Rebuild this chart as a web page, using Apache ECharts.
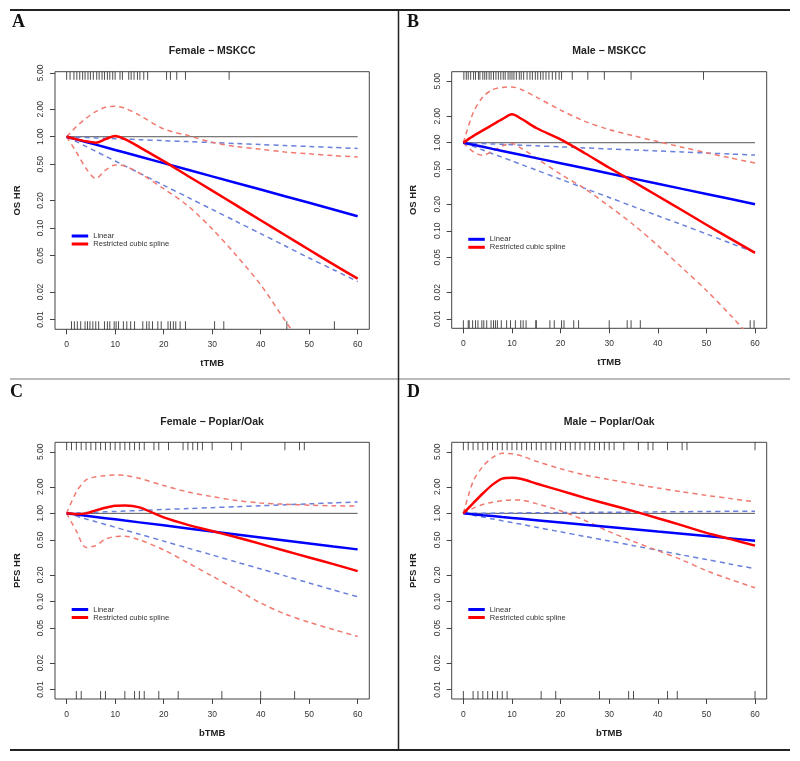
<!DOCTYPE html>
<html>
<head>
<meta charset="utf-8">
<script src="https://cdn.jsdelivr.net/npm/echarts@6/dist/echarts.min.js"></script>
<style>
  html, body { margin: 0; padding: 0; background: #fff; }
  #main { width: 800px; height: 761px; }
</style>
</head>
<body>
<div id="main"></div>
<script>
var chart = echarts.init(document.getElementById('main'));

var xGrid = [0, 2, 4, 6, 8, 10, 12, 15, 20, 25, 30, 35, 40, 45, 50, 55, 60];
var xTicks = [0, 10, 20, 30, 40, 50, 60];
var yTicks = [0.01, 0.02, 0.05, 0.1, 0.2, 0.5, 1, 2, 5];
var refX = [0, 60];

// A: Female - MSKCC
var aLinear   = [1, 0.936, 0.875, 0.819, 0.766, 0.717, 0.671, 0.607, 0.514, 0.435, 0.368, 0.312, 0.264, 0.223, 0.189, 0.160, 0.135];
var aLinearLo = [1, 0.885, 0.783, 0.693, 0.613, 0.542, 0.480, 0.400, 0.294, 0.217, 0.160, 0.118, 0.087, 0.064, 0.047, 0.035, 0.026];
var aLinearHi = [1, 0.990, 0.981, 0.971, 0.962, 0.952, 0.943, 0.929, 0.906, 0.884, 0.863, 0.842, 0.821, 0.801, 0.782, 0.763, 0.745];
var aSpline   = [1, 0.94, 0.89, 0.86, 0.94, 1.02, 0.94, 0.77, 0.54, 0.372, 0.257, 0.177, 0.122, 0.084, 0.058, 0.040, 0.028];
var aSplineLo = [1, 0.68, 0.45, 0.35, 0.43, 0.49, 0.476, 0.40, 0.27, 0.175, 0.098, 0.050, 0.024, 0.0098, 0.004, null, null];
var aSplineHi = [1, 1.29, 1.59, 1.88, 2.1, 2.15, 2.05, 1.72, 1.22, 1.03, 0.87, 0.78, 0.73, 0.68, 0.65, 0.62, 0.60];
var aRugTop = [0, 0.7, 1.5, 2.1, 2.7, 3.3, 3.8, 4.4, 4.9, 5.5, 6.2, 6.7, 7.3, 7.8, 8.4, 8.9, 9.5, 10.0, 11.0, 11.5,
               12.8, 13.3, 13.9, 14.6, 15.1, 15.9, 16.7, 20.6, 21.4, 22.7, 24.5, 33.5];
var aRugBottom = [1.0, 1.6, 2.2, 2.9, 3.8, 4.3, 4.8, 5.4, 6.0, 6.6, 7.8, 8.4, 8.9, 9.8, 10.2, 10.7, 11.7, 12.4, 13.2, 14.0,
                  15.7, 16.5, 17.0, 17.7, 18.8, 19.5, 20.9, 21.4, 22.0, 22.5, 23.4, 24.5, 30.5, 32.4, 45.4, 55.2];

// B: Male - MSKCC
var bLinear   = [1, 0.947, 0.898, 0.851, 0.807, 0.765, 0.725, 0.669, 0.585, 0.512, 0.447, 0.391, 0.342, 0.299, 0.262, 0.229, 0.200];
var bLinearLo = [1, 0.909, 0.826, 0.751, 0.683, 0.621, 0.564, 0.489, 0.385, 0.303, 0.239, 0.188, 0.148, 0.117, 0.092, 0.072, 0.057];
var bLinearHi = [1, 0.989, 0.979, 0.968, 0.958, 0.948, 0.937, 0.923, 0.898, 0.874, 0.851, 0.829, 0.807, 0.785, 0.764, 0.744, 0.724];
var bSpline   = [1, 1.19, 1.38, 1.6, 1.85, 2.1, 1.86, 1.47, 1.09, 0.76, 0.52, 0.36, 0.248, 0.171, 0.117, 0.081, 0.056];
var bSplineLo = [1, 0.79, 0.72, 0.8, 0.92, 0.98, 0.86, 0.67, 0.44, 0.30, 0.19, 0.117, 0.068, 0.038, 0.021, 0.0109, 0.0054];
var bSplineHi = [1, 2.18, 3.3, 4.0, 4.25, 4.3, 4.0, 3.3, 2.35, 1.75, 1.41, 1.2, 1.03, 0.89, 0.77, 0.67, 0.59];
var bRugTop = [0.1, 0.6, 1.0, 1.5, 2.1, 2.5, 3.1, 3.4, 4.0, 4.4, 4.8, 5.3, 5.7, 6.2, 6.7, 7.2, 7.7, 8.2, 8.6, 9.2,
               9.6, 10.0, 10.4, 10.9, 11.5, 11.9, 12.4, 13.1, 13.7, 14.2, 14.8, 15.3, 15.9, 16.4, 17.0, 17.6, 18.3,
               19.0, 19.7, 20.2, 22.4, 25.6, 29.0, 34.5, 49.4];
var bRugBottom = [0, 1.0, 1.2, 1.9, 2.5, 3.0, 3.8, 4.2, 4.8, 5.7, 6.2, 6.6, 7.0, 7.8, 8.9, 9.7, 10.7, 11.8, 12.3, 12.9,
                  14.9, 15.0, 17.8, 18.7, 20.2, 20.7, 22.7, 23.7, 30.0, 33.7, 34.5, 36.4, 59.0, 59.8];

// C: Female - Poplar/Oak
var cLinear   = [1, 0.969, 0.939, 0.910, 0.882, 0.855, 0.828, 0.790, 0.731, 0.675, 0.624, 0.577, 0.533, 0.493, 0.456, 0.421, 0.390];
var cLinearLo = [1, 0.930, 0.865, 0.804, 0.748, 0.696, 0.647, 0.580, 0.484, 0.403, 0.337, 0.280, 0.234, 0.195, 0.162, 0.135, 0.113];
var cLinearHi = [1, 1.010, 1.020, 1.030, 1.041, 1.051, 1.062, 1.078, 1.105, 1.133, 1.161, 1.190, 1.221, 1.251, 1.283, 1.315, 1.350];
var cSpline   = [1, 0.98, 1.0, 1.08, 1.16, 1.22, 1.23, 1.17, 0.90, 0.74, 0.63, 0.535, 0.45, 0.376, 0.316, 0.265, 0.221];
var cSplineLo = [1, 0.63, 0.41, 0.43, 0.51, 0.545, 0.55, 0.50, 0.385, 0.274, 0.194, 0.137, 0.096, 0.072, 0.058, 0.048, 0.040];
var cSplineHi = [1, 1.75, 2.4, 2.6, 2.68, 2.73, 2.7, 2.5, 2.07, 1.75, 1.55, 1.40, 1.31, 1.27, 1.24, 1.22, 1.21];
var cRugTop = [0, 1, 2, 3, 4, 5, 6, 7, 8, 9, 10, 11, 12, 13, 14, 15, 16, 18, 19, 21, 24, 25, 26, 27, 28, 30, 34, 36, 45, 48, 49];
var cRugBottom = [2, 3, 7, 8, 12, 14, 15, 16, 19, 23, 32, 40, 47];

// D: Male - Poplar/Oak
var dLinear   = [1, 0.976, 0.953, 0.931, 0.909, 0.888, 0.867, 0.836, 0.788, 0.742, 0.700, 0.659, 0.621, 0.586, 0.552, 0.520, 0.490];
var dLinearLo = [1, 0.953, 0.908, 0.865, 0.824, 0.786, 0.749, 0.696, 0.617, 0.547, 0.485, 0.430, 0.381, 0.337, 0.299, 0.265, 0.235];
var dLinearHi = [1, 1.002, 1.004, 1.006, 1.008, 1.010, 1.012, 1.015, 1.020, 1.025, 1.030, 1.035, 1.040, 1.045, 1.050, 1.055, 1.060];
var dSpline   = [1, 1.3, 1.68, 2.12, 2.48, 2.54, 2.45, 2.18, 1.81, 1.5, 1.26, 1.06, 0.88, 0.73, 0.60, 0.51, 0.43];
var dSplineLo = [1, 1.14, 1.26, 1.34, 1.39, 1.42, 1.41, 1.29, 1.07, 0.83, 0.62, 0.48, 0.377, 0.296, 0.223, 0.177, 0.143];
var dSplineHi = [1, 2.3, 3.4, 4.3, 4.8, 4.75, 4.48, 3.9, 3.21, 2.73, 2.42, 2.16, 1.94, 1.76, 1.6, 1.47, 1.35];
var dRugTop = [0, 1, 2, 3, 4, 5, 6, 7, 8, 9, 10, 11, 12, 13, 14, 15, 16, 17, 18, 19, 20, 21, 22, 23, 24, 25, 26, 27, 28, 29,
               30, 31, 33, 36, 38, 39, 42, 45, 46, 60];
var dRugBottom = [0, 2, 3, 4, 5, 6, 7, 8, 9, 16, 19, 28, 34, 35, 42, 44, 60];

var panels = [
  { letter: 'A', title: 'Female \u2212 MSKCC', yName: 'OS HR', xName: 'tTMB', yMin: 0.0078, yMax: 5.15,
    lin: aLinear, linLo: aLinearLo, linHi: aLinearHi, rcs: aSpline, rcsLo: aSplineLo, rcsHi: aSplineHi, rugTop: aRugTop, rugBottom: aRugBottom },
  { letter: 'B', title: 'Male \u2212 MSKCC', yName: 'OS HR', xName: 'tTMB', yMin: 0.0078, yMax: 6.41,
    lin: bLinear, linLo: bLinearLo, linHi: bLinearHi, rcs: bSpline, rcsLo: bSplineLo, rcsHi: bSplineHi, rugTop: bRugTop, rugBottom: bRugBottom },
  { letter: 'C', title: 'Female \u2212 Poplar/Oak', yName: 'PFS HR', xName: 'bTMB', yMin: 0.0078, yMax: 6.41,
    lin: cLinear, linLo: cLinearLo, linHi: cLinearHi, rcs: cSpline, rcsLo: cSplineLo, rcsHi: cSplineHi, rugTop: cRugTop, rugBottom: cRugBottom },
  { letter: 'D', title: 'Male \u2212 Poplar/Oak', yName: 'PFS HR', xName: 'bTMB', yMin: 0.0078, yMax: 6.41,
    lin: dLinear, linLo: dLinearLo, linHi: dLinearHi, rcs: dSpline, rcsLo: dSplineLo, rcsHi: dSplineHi, rugTop: dRugTop, rugBottom: dRugBottom }
];

// layout of the four plot boxes
var boxes = [
  { left: 55, top: 71.7, width: 314.3, height: 257.6 },
  { left: 451.7, top: 71.7, width: 315, height: 256.6 },
  { left: 55, top: 442.3, width: 314.3, height: 256.7 },
  { left: 451.7, top: 442.3, width: 315, height: 256.7 }
];
var legendPos = [[71.7, 232], [468.3, 235.3], [71.7, 605.5], [468.3, 605.5]];
var letterPos = [[12, 13], [407, 13], [10, 383], [407, 383]];
var titleTop = [46, 46, 416.5, 416.5];

var sans = 'Liberation Sans';
var blue = '#0000ff', red = '#ff0000';
var blueCI = '#6a80dc', redCI = '#f07a70';

function pairs(xs, ys) {
  var out = [];
  for (var k = 0; k < xs.length; k++) {
    if (ys[k] != null) out.push([xs[k], ys[k]]);
  }
  return out;
}
function rug(xs, y) {
  return xs.map(function (x) { return [x, y]; });
}

var option = {
  animation: false,
  backgroundColor: '#fff',
  title: [], grid: [], xAxis: [], yAxis: [], legend: [], series: [],
  graphic: [
    { type: 'line', shape: { x1: 10, y1: 10, x2: 790, y2: 10 }, style: { stroke: '#222', lineWidth: 2 } },
    { type: 'line', shape: { x1: 10, y1: 379, x2: 790, y2: 379 }, style: { stroke: '#777', lineWidth: 1 } },
    { type: 'line', shape: { x1: 10, y1: 750, x2: 790, y2: 750 }, style: { stroke: '#222', lineWidth: 2 } },
    { type: 'line', shape: { x1: 398.5, y1: 10, x2: 398.5, y2: 750 }, style: { stroke: '#222', lineWidth: 1.5 } }
  ]
};

panels.forEach(function (p, i) {
  var b = boxes[i];
  option.title.push({
    text: p.title, left: b.left + b.width / 2, top: titleTop[i], textAlign: 'center', padding: 0,
    textStyle: { fontFamily: sans, fontWeight: 'bold', fontSize: 10.5, color: '#222' }
  });
  option.title.push({
    text: p.letter, left: letterPos[i][0], top: letterPos[i][1], padding: 0,
    textStyle: { fontFamily: 'Liberation Serif', fontWeight: 'bold', fontSize: 18, color: '#111' }
  });
  option.grid.push({
    left: b.left, top: b.top, width: b.width, height: b.height,
    show: true, borderColor: '#444', borderWidth: 1, backgroundColor: 'transparent'
  });
  option.xAxis.push({
    type: 'value', gridIndex: i, min: -2.4, max: 62.4,
    name: p.xName, nameLocation: 'middle', nameGap: 29,
    nameTextStyle: { fontFamily: sans, fontWeight: 'bold', fontSize: 9.5, color: '#222' },
    axisLine: { show: false, onZero: false },
    axisTick: { show: true, customValues: xTicks, length: 5, lineStyle: { color: '#444' } },
    axisLabel: { customValues: xTicks, margin: 11, fontFamily: sans, fontSize: 8.5, color: '#333' },
    splitLine: { show: false }
  });
  option.yAxis.push({
    type: 'log', gridIndex: i, min: p.yMin, max: p.yMax, position: 'left',
    name: p.yName, nameLocation: 'middle', nameGap: 33,
    nameTextStyle: { fontFamily: sans, fontWeight: 'bold', fontSize: 9.5, color: '#222' },
    axisLine: { show: false, onZero: false },
    axisTick: { show: true, customValues: yTicks, length: 5, lineStyle: { color: '#444' } },
    axisLabel: {
      customValues: yTicks, rotate: 90, margin: 10, fontFamily: sans, fontSize: 8.5, color: '#333',
      formatter: function (v) { return Number(v).toFixed(2); }
    },
    splitLine: { show: false }, minorTick: { show: false }
  });
  // hidden axis for the rug ticks (0 = bottom edge, 1 = top edge)
  option.yAxis.push({ type: 'value', gridIndex: i, min: 0, max: 1, show: false, position: 'right',
    axisLine: { onZero: false } });

  var yMain = 2 * i, yRug = 2 * i + 1;
  option.legend.push({
    data: ['Linear', 'Restricted cubic spline'], orient: 'vertical',
    left: legendPos[i][0], top: legendPos[i][1], padding: 0, itemGap: 0,
    icon: 'rect', itemWidth: 16.5, itemHeight: 3, selectedMode: false,
    textStyle: { fontFamily: sans, fontSize: 7.6, lineHeight: 8, color: '#333' }
  });

  var s = option.series;
  s.push({
    name: 'HR = 1', type: 'line', xAxisIndex: i, yAxisIndex: yMain, silent: true,
    data: pairs(refX, [1, 1]), symbol: 'none', lineStyle: { color: '#555', width: 1 }
  });
  s.push({
    name: 'rug top', type: 'scatter', xAxisIndex: i, yAxisIndex: yRug, silent: true, clip: false,
    data: rug(p.rugTop, 1), symbol: 'rect', symbolSize: [1, 8], symbolOffset: [0, 4],
    itemStyle: { color: '#222' }
  });
  s.push({
    name: 'rug bottom', type: 'scatter', xAxisIndex: i, yAxisIndex: yRug, silent: true, clip: false,
    data: rug(p.rugBottom, 0), symbol: 'rect', symbolSize: [1, 8], symbolOffset: [0, -4],
    itemStyle: { color: '#222' }
  });
  [['Linear 95% CI lower', p.linLo, blueCI], ['Linear 95% CI upper', p.linHi, blueCI],
   ['Spline 95% CI lower', p.rcsLo, redCI], ['Spline 95% CI upper', p.rcsHi, redCI]].forEach(function (d) {
    s.push({
      name: d[0], type: 'line', xAxisIndex: i, yAxisIndex: yMain, silent: true,
      data: pairs(xGrid, d[1]), symbol: 'none', smooth: 0.3, clip: true,
      lineStyle: { color: d[2], width: 1.5, type: [5, 4] }
    });
  });
  s.push({
    name: 'Linear', type: 'line', xAxisIndex: i, yAxisIndex: yMain, silent: true,
    data: pairs(xGrid, p.lin), symbol: 'none', itemStyle: { color: blue },
    lineStyle: { color: blue, width: 2.5 }
  });
  s.push({
    name: 'Restricted cubic spline', type: 'line', xAxisIndex: i, yAxisIndex: yMain, silent: true,
    data: pairs(xGrid, p.rcs), symbol: 'none', smooth: 0.3, clip: true, itemStyle: { color: red },
    lineStyle: { color: red, width: 2.5 }
  });
});

chart.setOption(option);
</script>
</body>
</html>
